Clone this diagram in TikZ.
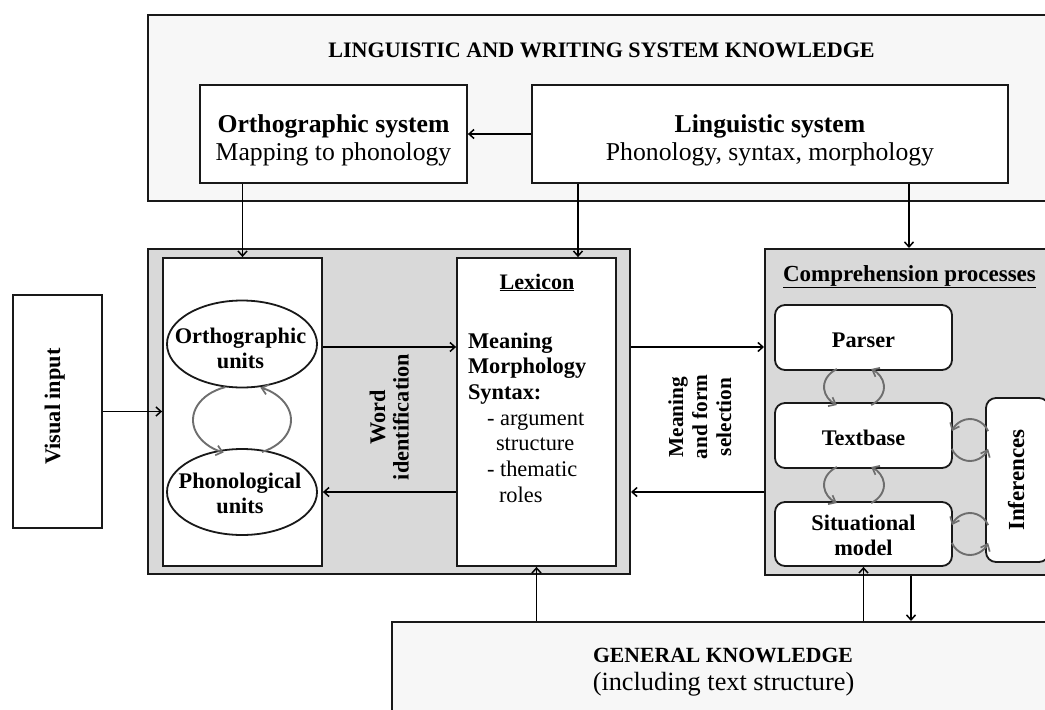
\documentclass[tikz,border=0pt]{standalone}
\usepackage{fontspec}
\setmainfont{Liberation Serif}
\usetikzlibrary{arrows.meta,shapes.geometric}
\definecolor{lightfill}{HTML}{F7F7F7}
\definecolor{midfill}{HTML}{D9D9D9}
\definecolor{cycgray}{HTML}{6E6E6E}
\begin{document}
\begin{tikzpicture}[x=1pt,y=-1pt,
  outerbox/.style={draw=black!90, line width=2pt, fill=lightfill, inner sep=0pt},
  graybox/.style={draw=black!90, line width=2pt, fill=midfill, inner sep=0pt},
  whitebox/.style={draw=black!90, line width=1.8pt, fill=white, inner sep=0pt},
  roundbox/.style={whitebox, rounded corners=10pt},
  unitshape/.style={ellipse, draw=black!90, line width=1.8pt, fill=white, inner sep=0pt},
  txt/.style={inner sep=0pt, outer sep=0pt},
  arr/.style={line width=1.7pt, -{Straight Barb[length=5pt,width=9pt,line width=1.5pt]}},
  cyc/.style={draw=cycgray, line width=1.9pt, -{Straight Barb[length=6pt,width=10pt,line width=1.7pt]}},
  fbig/.style={font=\fontsize{25.7}{28}\selectfont},
  fmid/.style={font=\bfseries\fontsize{22.3}{25}\selectfont}
]
\useasboundingbox (0,0) rectangle (1045,710);
\clip (0,0) rectangle (1045,710);

% ---- top knowledge box
\node[outerbox, minimum width=912pt, minimum height=186pt] (top) at (604,108) {};
\node[txt, anchor=base, font=\bfseries\fontsize{22.1}{26}\selectfont] (title) at (601.5,57) {LINGUISTIC AND WRITING SYSTEM KNOWLEDGE};
\node[whitebox, minimum width=267pt, minimum height=98pt] (ortho) at (333.5,134) {};
\node[whitebox, minimum width=476pt, minimum height=98pt] (ling) at (770,134) {};
\node[txt, fbig, anchor=base] (orthot) at (333.5,132) {\begin{tabular}[t]{@{}c@{}}\textbf{Orthographic system}\\ Mapping to phonology\end{tabular}};
\node[txt, fbig, anchor=base] (lingt) at (770,132) {\begin{tabular}[t]{@{}c@{}}\textbf{Linguistic system}\\ Phonology, syntax, morphology\end{tabular}};

% ---- visual input
\node[whitebox, minimum width=89pt, minimum height=233pt] (vis) at (57.5,411.5) {};
\node[txt, fmid, rotate=90, anchor=base] (vist) at (60,406.5) {Visual input};

% ---- word identification group
\node[graybox, minimum width=482pt, minimum height=325pt] (mid) at (389,411.5) {};
\node[whitebox, minimum width=159pt, minimum height=308pt] (inL) at (242.5,412) {};
\node[whitebox, minimum width=159pt, minimum height=308pt] (lex) at (536.5,412) {};
\node[unitshape, minimum width=150pt, minimum height=87pt] (oe) at (242,344) {};
\node[unitshape, minimum width=150pt, minimum height=86pt] (pe) at (242,492) {};
\node[txt, fmid, anchor=base] (oet) at (240.5,343) {\begin{tabular}[t]{@{}c@{}}Orthographic\\ units\end{tabular}};
\node[txt, fmid, anchor=base] (pet) at (240,488) {\begin{tabular}[t]{@{}c@{}}Phonological\\ units\end{tabular}};
\node[txt, font=\bfseries\fontsize{22.3}{23.5}\selectfont, rotate=90, anchor=base] (wid) at (385,417) {\begin{tabular}[t]{@{}c@{}}Word\\ identification\end{tabular}};
\node[txt, font=\bfseries\fontsize{22.1}{25}\selectfont, anchor=base] (lext) at (537,289) {\underline{Lexicon}};
\node[txt, anchor=base west, font=\fontsize{22.4}{25.7}\selectfont] (lexb) at (468,348) {\begin{tabular}[t]{@{}l@{}}\textbf{Meaning}\\ \textbf{Morphology}\\ \textbf{Syntax:}\\ \hspace*{19pt}- argument\\ \hspace*{28pt}structure\\ \hspace*{19pt}- thematic\\ \hspace*{31pt}roles\end{tabular}};

% cycle between units
\coordinate (c1) at (242,420);
\draw[cyc] (c1) ++(250:49 and 35) arc[start angle=250, end angle=112, x radius=49, y radius=35];
\draw[cyc] (c1) ++(66:49 and 35) arc[start angle=66, end angle=-68, x radius=49, y radius=35];

% ---- comprehension processes
\node[graybox, minimum width=288pt, minimum height=326pt] (comp) at (909,412) {};
\node[txt, font=\bfseries\fontsize{23}{26}\selectfont, anchor=base] (compt) at (909.5,281) {\underline{Comprehension processes}};
\node[roundbox, minimum width=177pt, minimum height=65pt] (parser) at (863.5,337.5) {};
\node[roundbox, minimum width=177pt, minimum height=65pt] (textbase) at (863.5,435.5) {};
\node[roundbox, minimum width=177pt, minimum height=64pt] (sit) at (863.5,534) {};
\node[roundbox, minimum width=63pt, minimum height=164pt] (inf) at (1017.5,480) {};
\node[txt, fmid, anchor=base] (parsert) at (863.5,347) {Parser};
\node[txt, fmid, anchor=base] (textbaset) at (863.5,445) {Textbase};
\node[txt, fmid, anchor=base] (sitt) at (863.5,530) {\begin{tabular}[t]{@{}c@{}}Situational\\ model\end{tabular}};
\node[txt, font=\bfseries\fontsize{23}{26}\selectfont, rotate=90, anchor=base] (inft) at (1024,480) {Inferences};

\coordinate (c2) at (854,387);
\coordinate (c3) at (854,485);
\coordinate (c4) at (970,440);
\coordinate (c5) at (970,534);
\foreach \c in {c2,c3}{
  \draw[cyc] (\c) ++(235:30 and 22) arc[start angle=235, end angle=125, x radius=30, y radius=22];
  \draw[cyc] (\c) ++(55:30 and 22) arc[start angle=55, end angle=-55, x radius=30, y radius=22];
}
\foreach \c in {c4,c5}{
  \draw[cyc] (\c) ++(-25:20 and 21) arc[start angle=-25, end angle=-155, x radius=20, y radius=21];
  \draw[cyc] (\c) ++(155:20 and 21) arc[start angle=155, end angle=25, x radius=20, y radius=21];
}

% ---- general knowledge
\node[outerbox, minimum width=668pt, minimum height=118pt] (gk) at (726,681) {};
\node[txt, font=\bfseries\fontsize{21.7}{26}\selectfont, anchor=base] (gkt) at (723,662) {GENERAL KNOWLEDGE};
\node[txt, font=\fontsize{26.3}{28}\selectfont, anchor=base] (gks) at (723.5,690) {(including text structure)};

\node[txt, font=\bfseries\fontsize{21.3}{24}\selectfont, rotate=90, anchor=base] (mfs) at (683,417) {\begin{tabular}[t]{@{}c@{}}Meaning\\ and form\\ selection\end{tabular}};

% ---- connectors
\coordinate (yA) at (0,347);
\coordinate (yB) at (0,492);
\coordinate (lx) at (578,0);
\draw[arr] (ling.west) -- (ortho.east);
\draw[arr] (ortho.south -| inL.north) -- (inL.north);
\draw[arr] (ling.south -| lx) -- (lex.north -| lx);
\draw[arr] (ling.south -| comp.north) -- (comp.north);
\draw[arr] (vis.east) -- (vis.east -| inL.west);
\draw[arr] (inL.east |- yA) -- (lex.west |- yA);
\draw[arr] (lex.west |- yB) -- (inL.east |- yB);
\draw[arr] (mid.east |- yA) -- (comp.west |- yA);
\draw[arr] (comp.west |- yB) -- (mid.east |- yB);
\draw[arr] (gk.north -| lex.south) -- (lex.south);
\draw[arr] (gk.north -| sit.south) -- (sit.south);
\draw[arr] (comp.south -| 911,0) -- (gk.north -| 911,0);
\end{tikzpicture}
\end{document}
